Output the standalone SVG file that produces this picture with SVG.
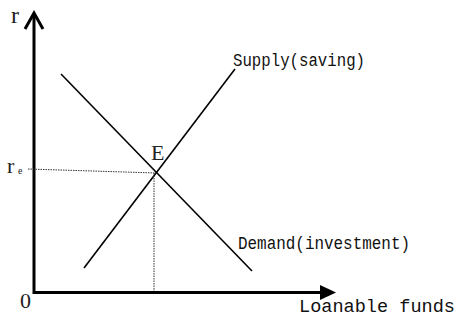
<svg xmlns="http://www.w3.org/2000/svg" width="462" height="322" viewBox="0 0 462 322">
<style>
.axis{stroke:#000;stroke-width:3;fill:none}
.curve{stroke:#000;stroke-width:1.6;fill:none}
.dot{stroke:#333;stroke-width:1;stroke-dasharray:1.5 1;fill:none}
.serif{font-family:"Liberation Serif","DejaVu Serif",serif;fill:#222}
.mono{font-family:"Liberation Mono","DejaVu Sans Mono",monospace;fill:#111}
</style>
<rect width="462" height="322" fill="#fff"/>
<g id="axes">
<path class="axis" d="M34,294 V13"/>
<path class="axis" d="M25,29 L34,13 L43,29"/>
<path class="axis" d="M33,292.5 H322"/>
<polygon points="320,285 336,292.5 320,300" fill="#000"/>
</g>
<g id="connectors">
<line class="curve" x1="61" y1="74" x2="252" y2="271"/>
<line class="curve" x1="84" y1="268" x2="235" y2="69"/>
<path class="dot" d="M28,169 L156,173"/>
<path class="dot" d="M154,173 V291"/>
</g>
<g id="labels">
<text class="serif" x="11" y="23" font-size="24">r</text>
<text class="serif" x="7" y="173" font-size="22">r</text>
<text class="serif" x="18" y="174" font-size="10">e</text>
<text class="serif" x="151" y="160" font-size="22">E</text>
<text class="serif" x="20" y="308" font-size="22">0</text>
<text class="mono" x="233" y="66" font-size="18" textLength="132" lengthAdjust="spacingAndGlyphs">Supply(saving)</text>
<text class="mono" x="238" y="249" font-size="18" textLength="172" lengthAdjust="spacingAndGlyphs">Demand(investment)</text>
<text class="mono" x="299" y="312" font-size="19" textLength="156" lengthAdjust="spacingAndGlyphs">Loanable funds</text>
</g>
</svg>
